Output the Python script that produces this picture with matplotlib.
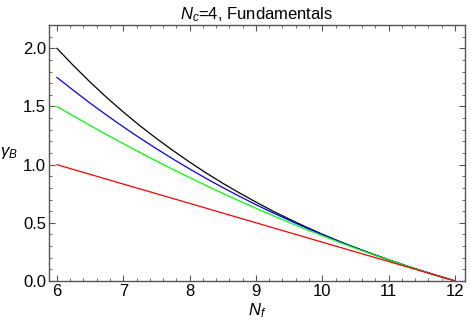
import numpy as np
from matplotlib import pyplot as plt
from matplotlib.ticker import MultipleLocator

plt.rcParams['font.family'] = ['Liberation Sans', 'DejaVu Sans']
plt.rcParams['mathtext.fontset'] = 'custom'
plt.rcParams['mathtext.rm'] = 'Liberation Sans'
plt.rcParams['mathtext.it'] = 'Liberation Sans:italic'

# valori
nf = [6.0, 6.25, 6.5, 6.75, 7.0, 7.25, 7.5, 7.75, 8.0, 8.25, 8.5, 8.75, 9.0,
      9.25, 9.5, 9.75, 10.0, 10.25, 10.5, 10.75, 11.0, 11.25, 11.5, 11.75, 12.0]
gamma_nero = [2.0, 1.851, 1.710, 1.577, 1.453, 1.335, 1.225, 1.121, 1.022, 0.928, 0.840, 0.757, 0.678,
              0.602, 0.532, 0.465, 0.402, 0.342, 0.286, 0.233, 0.182, 0.133, 0.087, 0.043, 0.0]
gamma_blu = [1.75, 1.638, 1.529, 1.425, 1.325, 1.229, 1.137, 1.048, 0.963, 0.881, 0.803, 0.728, 0.656,
             0.587, 0.522, 0.458, 0.398, 0.340, 0.285, 0.232, 0.182, 0.133, 0.087, 0.043, 0.0]
gamma_verde = [1.5, 1.418, 1.337, 1.258, 1.181, 1.105, 1.031, 0.959, 0.889, 0.820, 0.753, 0.688, 0.625,
               0.563, 0.503, 0.445, 0.389, 0.334, 0.281, 0.230, 0.181, 0.133, 0.087, 0.043, 0.0]
nf_rosso = [6.0, 7.0, 8.0, 9.0, 10.0, 11.0, 12.0]
gamma_rosso = [1.0, 0.833, 0.667, 0.500, 0.333, 0.167, 0.0]

fig = plt.figure(figsize=(4.71, 3.27), dpi=100)
ax = fig.add_axes([0.104, 0.141, 0.883, 0.784])

ax.plot(nf, gamma_nero, color='black', lw=0.9)
ax.plot(nf, gamma_blu, color='blue', lw=0.9)
ax.plot(nf, gamma_verde, color='#00ff00', lw=0.9)
ax.plot(nf_rosso, gamma_rosso, color='red', lw=0.9)

ax.set_xlim(5.88, 12.15)
ax.set_ylim(0, 2.205)
ax.xaxis.set_major_locator(MultipleLocator(1))
ax.xaxis.set_minor_locator(MultipleLocator(0.2))
ax.yaxis.set_major_locator(MultipleLocator(0.5))
ax.yaxis.set_minor_locator(MultipleLocator(0.1))
ax.yaxis.set_major_formatter(plt.FormatStrFormatter('%.1f'))

for s in ax.spines.values():
    s.set_color('#555555')
    s.set_linewidth(1.0)
ax.tick_params(which='both', direction='in', top=True, right=True, color='#555555', labelsize=12, labelcolor='black')
ax.tick_params(which='major', length=4.5, width=0.8, pad=2)
ax.tick_params(which='minor', length=2.5, width=0.6)

ax.set_title(r'$N_c$=4, Fundamentals', fontsize=12, pad=4)
ax.set_xlabel(r'$N_f$', fontsize=12, labelpad=2)
ax.set_ylabel(r'$\gamma_B$', fontsize=12, rotation=0, labelpad=10, va='center')

fig.savefig('out.png', dpi=100)
